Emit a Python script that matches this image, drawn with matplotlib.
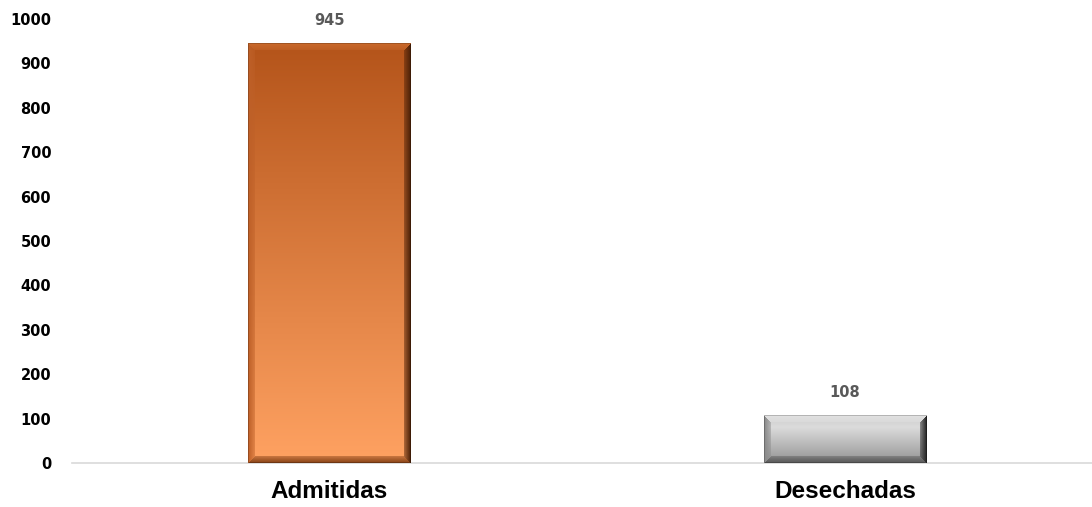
import numpy as np
import matplotlib
matplotlib.use("Agg")
import matplotlib.pyplot as plt
from matplotlib.colors import to_rgb

# Data
categories = ["Admitidas", "Desechadas"]
values = [945, 108]
y_ticks = [0, 100, 200, 300, 400, 500, 600, 700, 800, 900, 1000]

# Styles for the bevelled bars: (top colour, bottom colour, top bevel, left bevel, right bevel, bottom bevel)
bar_styles = [
    ("#B4541A", "#FFA262", "#C9692C", "#BE6028", "#4E2208", "#8A4418"),
    ("#D2D2D2", "#8E8E8E", "#E2E2E2", "#8A8A8A", "#262626", "#5A5A5A"),
]


def bevel_image(w, h, style, bev=7):
    top, bot, c_t, c_l, c_r, c_b = [np.array(to_rgb(c)) for c in style]
    t = np.linspace(0, 1, h)[:, None, None]
    img = np.ones((h, w, 3)) * (top * (1 - t) + bot * t)
    if style[0] == "#D2D2D2":
        # grey bar: light band near the top, darker further down
        prof = np.interp(np.linspace(0, 1, h), [0, 0.25, 1], [0.80, 0.86, 0.58])
        img = np.ones((h, w, 3)) * prof[:, None, None]
    r, c = np.mgrid[0:h, 0:w]
    d = np.stack([r, c, w - 1 - c, h - 1 - r])
    m = d.min(axis=0)
    which = d.argmin(axis=0)
    for k, col in enumerate([c_t, c_l, c_r, c_b]):
        sel = (which == k) & (m < bev)
        # soften bevel: blend toward the body colour near the inner edge
        a = (1 - m[sel] / bev)[:, None] * 0.6 + 0.4
        img[sel] = col * a + img[sel] * (1 - a)
    # thin outline
    img[m < 1] = img[m < 1] * 0.8
    return np.clip(img, 0, 1)


fig = plt.figure(figsize=(10.92, 5.07), dpi=100)
ax = fig.add_axes([72 / 1092, 44 / 507, 1020 / 1092, 444 / 507])
ax.set_xlim(-0.4995, 1.479)
ax.set_ylim(0, 1000)

bars = ax.bar(range(len(categories)), values, width=0.316, color="none", zorder=2)
fig.canvas.draw()
for b, style, v in zip(bars, bar_styles, values):
    x0, y0, bw, bh = b.get_x(), b.get_y(), b.get_width(), b.get_height()
    p0 = ax.transData.transform((x0, y0))
    p1 = ax.transData.transform((x0 + bw, y0 + bh))
    wpx, hpx = int(round(p1[0] - p0[0])), int(round(p1[1] - p0[1]))
    ax.imshow(bevel_image(wpx, hpx, style), extent=(x0, x0 + bw, y0, y0 + bh),
              aspect="auto", zorder=3, interpolation="bilinear")
    ax.annotate(f"{v}", (x0 + bw / 2, y0 + bh), xytext=(0, 11), textcoords="offset points",
                ha="center", va="bottom", fontsize=10.5, fontweight="bold", color="#595959")

ax.set_xlim(-0.4995, 1.479)
ax.set_ylim(0, 1000)
ax.set_yticks(y_ticks)
ax.set_yticklabels([str(t) for t in y_ticks], fontsize=10.5, fontweight="bold", color="black")
ax.set_xticks(range(len(categories)))
ax.set_xticklabels(categories, fontsize=17.5, fontweight="bold", family="Liberation Sans")
ax.tick_params(axis="both", length=0)
ax.tick_params(axis="x", pad=12)
ax.tick_params(axis="y", pad=15)
for s in ["top", "right", "left"]:
    ax.spines[s].set_visible(False)
ax.spines["bottom"].set_color("#D9D9D9")
ax.spines["bottom"].set_linewidth(1.2)

fig.savefig("out.png", dpi=100)
